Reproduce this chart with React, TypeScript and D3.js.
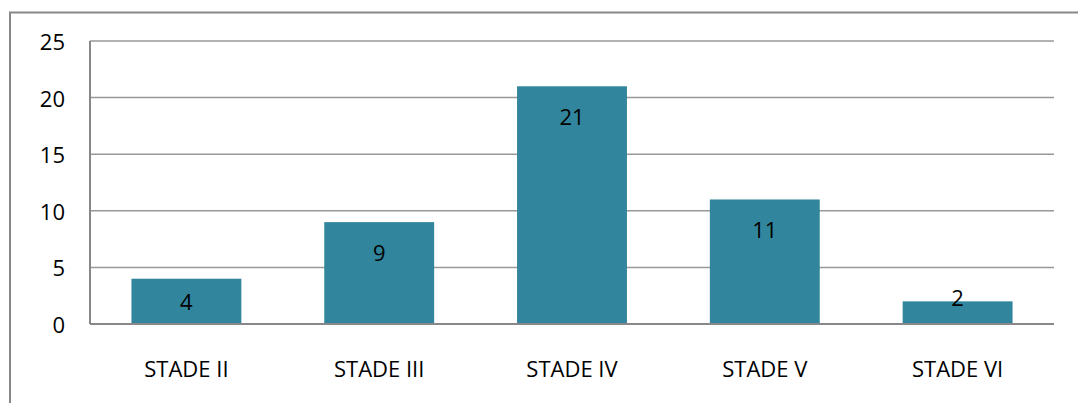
import React from "react";
import * as d3 from "d3";

const categories = ["STADE II", "STADE III", "STADE IV", "STADE V", "STADE VI"];
const values = [4, 9, 21, 11, 2];
const yTicks = [0, 5, 10, 15, 20, 25];

const W = 1078;
const H = 403;
const M = { left: 90, right: 1054, top: 41, bottom: 324 };
const FONT = "'Open Sans', sans-serif";

export default function App() {
  const x = d3
    .scaleBand<string>()
    .domain(categories)
    .range([M.left, M.right])
    .paddingInner(0.43)
    .paddingOuter(0.215);
  const y = d3.scaleLinear().domain([0, 25]).range([M.bottom, M.top]);
  const step = (M.right - M.left) / categories.length;

  return (
    <svg
      width={W}
      height={H}
      style={{ position: "absolute", left: 0, top: 0, background: "#fff" }}
    >
      <rect x={10} y={12.5} width={W + 20} height={H + 20} fill="#fff" stroke="#888" strokeWidth={2} />
      {yTicks.map((t) => (
        <g key={t}>
          {t > 0 && (
            <line x1={M.left} x2={M.right} y1={y(t)} y2={y(t)} stroke="#989898" strokeWidth={1.5} />
          )}
          <text
            x={65}
            y={y(t)}
            textAnchor="end"
            dominantBaseline="central"
            fontFamily={FONT}
            fontSize={22}
            fill="#000"
          >
            {t}
          </text>
        </g>
      ))}
      <line x1={M.left} x2={M.left} y1={M.top} y2={M.bottom} stroke="#888" strokeWidth={2} />
      {values.map((v, i) => {
        const c = categories[i];
        const top = y(v);
        const h = M.bottom - top;
        const ly = h >= 60 ? top + 30 : h >= 36 ? top + h / 2 : top - 4;
        return (
          <g key={c}>
            <rect x={x(c)} y={top} width={x.bandwidth()} height={h} fill="#31859C" />
            <text
              x={(x(c) as number) + x.bandwidth() / 2}
              y={ly}
              textAnchor="middle"
              dominantBaseline="central"
              fontFamily={FONT}
              fontSize={22}
              fill="#000"
            >
              {v}
            </text>
            <text
              x={M.left + step * (i + 0.5)}
              y={368}
              textAnchor="middle"
              dominantBaseline="central"
              fontFamily={FONT}
              fontSize={22}
              fill="#000"
            >
              {c}
            </text>
          </g>
        );
      })}
      <line x1={M.left} x2={M.right} y1={M.bottom} y2={M.bottom} stroke="#888" strokeWidth={2} />
    </svg>
  );
}
